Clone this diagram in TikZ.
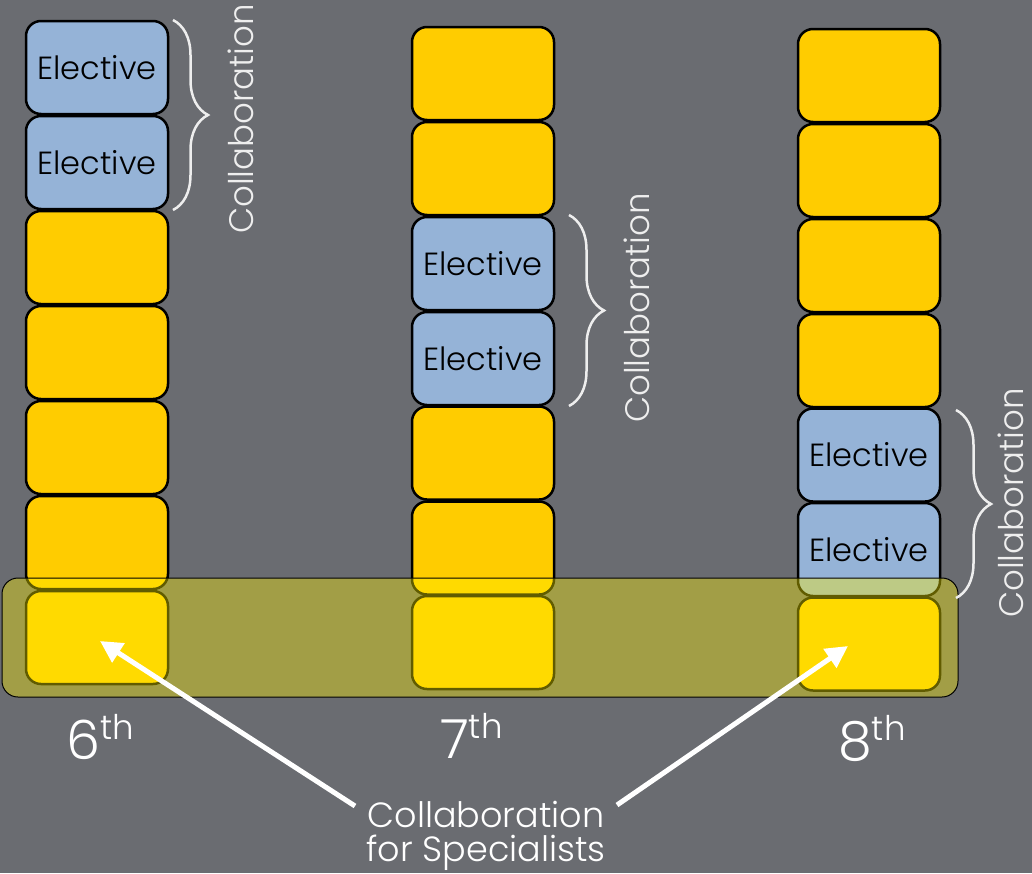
\documentclass[tikz,border=0pt]{standalone}
\usepackage{fontspec}
\IfFontExistsTF{Poppins Light}{\setmainfont{Poppins Light}}{\setmainfont{Poppins}}
\usetikzlibrary{arrows.meta,decorations.pathreplacing}
\definecolor{bg}{HTML}{6A6C71}
\definecolor{gold}{HTML}{FFCC00}
\definecolor{elblue}{HTML}{95B3D7}
\definecolor{lightw}{HTML}{EEEEEE}
\tikzset{
  slot/.style={draw=black, line width=2.5pt, rounded corners=15pt, minimum width=142pt, minimum height=93pt, inner sep=0pt, fill=gold},
  elec/.style={slot, fill=elblue, font=\fontsize{32}{36}\selectfont, text=black},
  bandbox/.style={draw=black, line width=1pt, rounded corners=16pt, fill=yellow, fill opacity=0.38, minimum width=956pt, minimum height=119pt, inner sep=0pt},
  collab/.style={text=lightw, rotate=90, font=\fontsize{34}{40}\selectfont, inner sep=0pt},
  bracestyle/.style={draw=lightw, line width=2.5pt, decorate, decoration={brace, amplitude=35pt}},
  grade/.style={text=white, anchor=base west, inner sep=0pt, font=\fontsize{54}{60}\selectfont},
  spectext/.style={text=white, anchor=base, inner sep=0pt, font=\fontsize{35}{40}\selectfont},
  pointer/.style={draw=white, line width=5pt, -{Triangle[length=22pt,width=22pt]}}
}
\newcommand{\gsup}[1]{\raisebox{0.36em}{\fontsize{34}{34}\selectfont #1}}
\begin{document}
\begin{tikzpicture}[x=1pt,y=-1pt]
\fill[bg] (0,0) rectangle (1032,873);
\useasboundingbox (0,0) rectangle (1032,873);
% column 1
\node[elec] (a1) at (97,67.5) {Elective};
\node[elec] (a2) at (97,162.5) {Elective};
\node[slot] (a3) at (97,257.5) {};
\node[slot] (a4) at (97,352.5) {};
\node[slot] (a5) at (97,447.5) {};
\node[slot] (a6) at (97,542.5) {};
\node[slot] (a7) at (97,637.5) {};
% column 2
\node[slot] (b1) at (483,73.5) {};
\node[slot] (b2) at (483,168.5) {};
\node[elec] (b3) at (483,263.5) {Elective};
\node[elec] (b4) at (483,358.5) {Elective};
\node[slot] (b5) at (483,453) {};
\node[slot] (b6) at (483,548) {};
\node[slot] (b7) at (483,642.5) {};
% column 3
\node[slot] (c1) at (869,75.5) {};
\node[slot] (c2) at (869,170.5) {};
\node[slot] (c3) at (869,265.5) {};
\node[slot] (c4) at (869,360.5) {};
\node[elec] (c5) at (869,455) {Elective};
\node[elec] (c6) at (869,549.5) {Elective};
\node[slot] (c7) at (869,644) {};
% band
\node[bandbox] (band) at (480,637.5) {};
% braces
\coordinate (br1a) at (173,20);
\coordinate (br1b) at (173,210);
\coordinate (br2a) at (569,215);
\coordinate (br2b) at (569,406);
\coordinate (br3a) at (956,410);
\coordinate (br3b) at (956,598);
\draw[bracestyle] (br1a) -- (br1b);
\draw[bracestyle] (br2a) -- (br2b);
\draw[bracestyle] (br3a) -- (br3b);
\node[collab] (t1) at (241,119) {Collaboration};
\node[collab] (t2) at (637,308) {Collaboration};
\node[collab] (t3) at (1011,503) {Collaboration};
% grade labels
\node[grade] (g6) at (66,759) {6\gsup{th}};
\node[grade] (g7) at (440,758) {7\gsup{th}};
\node[grade] (g8) at (838,760) {8\gsup{th}};
% bottom label
\node[spectext] (spec1) at (486,827) {Collaboration};
\node[spectext] (spec2) at (486,861) {for Specialists};
\coordinate (tailL) at (355,806);
\coordinate (tailR) at (617,805);
\coordinate (tipL) at (100,641);
\coordinate (tipR) at (848,646);
\draw[pointer] (tailL) -- (tipL);
\draw[pointer] (tailR) -- (tipR);
\end{tikzpicture}
\end{document}
